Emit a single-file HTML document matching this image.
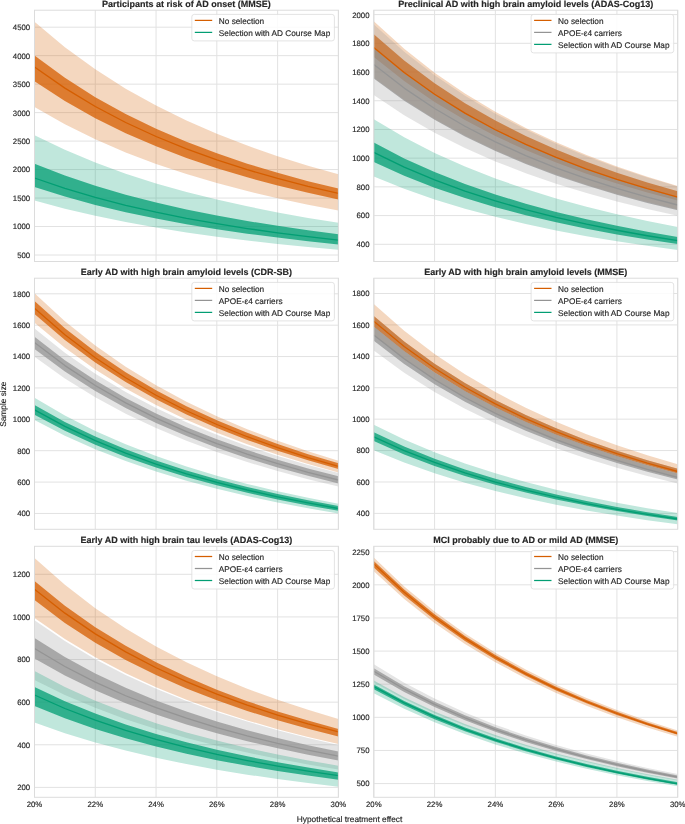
<!DOCTYPE html>
<html><head><meta charset="utf-8"><style>
html,body{margin:0;padding:0;background:#fff;width:685px;height:824px;overflow:hidden;}
svg{display:block;font-family:"Liberation Sans",sans-serif;}
svg{will-change:transform;} text{text-rendering:geometricPrecision;stroke:#262626;stroke-width:0.15px;}
</style></head><body>
<svg width="685" height="824" viewBox="0 0 685 824">
<rect width="685" height="824" fill="#fff"/>
<clipPath id="c00"><rect x="34.50" y="10.20" width="303.90" height="251.30"/></clipPath>
<g stroke="#e2e2e2" stroke-width="1"><line x1="34.50" y1="10.20" x2="34.50" y2="261.50"/><line x1="95.28" y1="10.20" x2="95.28" y2="261.50"/><line x1="156.06" y1="10.20" x2="156.06" y2="261.50"/><line x1="216.84" y1="10.20" x2="216.84" y2="261.50"/><line x1="277.62" y1="10.20" x2="277.62" y2="261.50"/><line x1="338.40" y1="10.20" x2="338.40" y2="261.50"/><line x1="34.50" y1="255.00" x2="338.40" y2="255.00"/><line x1="34.50" y1="226.52" x2="338.40" y2="226.52"/><line x1="34.50" y1="198.05" x2="338.40" y2="198.05"/><line x1="34.50" y1="169.57" x2="338.40" y2="169.57"/><line x1="34.50" y1="141.10" x2="338.40" y2="141.10"/><line x1="34.50" y1="112.62" x2="338.40" y2="112.62"/><line x1="34.50" y1="84.15" x2="338.40" y2="84.15"/><line x1="34.50" y1="55.67" x2="338.40" y2="55.67"/><line x1="34.50" y1="27.20" x2="338.40" y2="27.20"/></g>
<g clip-path="url(#c00)">
<polygon points="34.50,21.70 64.89,47.22 95.28,69.34 125.67,88.64 156.06,105.58 186.45,120.52 216.84,133.77 247.23,145.58 277.62,156.15 308.01,165.64 338.40,174.20 338.40,210.50 308.01,204.69 277.62,198.25 247.23,191.08 216.84,183.06 186.45,174.07 156.06,163.92 125.67,152.43 95.28,139.33 64.89,124.32 34.50,107.00" fill="rgb(213,94,0)" fill-opacity="0.250"/>
<polygon points="34.50,55.60 64.89,77.86 95.28,97.15 125.67,113.98 156.06,128.75 186.45,141.78 216.84,153.34 247.23,163.64 277.62,172.86 308.01,181.14 338.40,188.60 338.40,199.50 308.01,192.87 277.62,185.51 247.23,177.32 216.84,168.17 186.45,157.89 156.06,146.31 125.67,133.18 95.28,118.23 64.89,101.08 34.50,81.30" fill="rgb(213,94,0)" fill-opacity="0.750"/>
<polygon points="34.50,135.20 64.89,149.86 95.28,162.57 125.67,173.65 156.06,183.38 186.45,191.96 216.84,199.58 247.23,206.36 277.62,212.43 308.01,217.88 338.40,222.80 338.40,249.70 308.01,246.94 277.62,243.88 247.23,240.47 216.84,236.66 186.45,232.38 156.06,227.56 125.67,222.10 95.28,215.87 64.89,208.73 34.50,200.50" fill="rgb(2,158,115)" fill-opacity="0.250"/>
<polygon points="34.50,163.70 64.89,175.50 95.28,185.72 125.67,194.65 156.06,202.47 186.45,209.38 216.84,215.51 247.23,220.97 277.62,225.86 308.01,230.24 338.40,234.20 338.40,244.40 308.01,241.18 277.62,237.61 247.23,233.63 216.84,229.18 186.45,224.20 156.06,218.57 125.67,212.20 95.28,204.93 64.89,196.61 34.50,187.00" fill="rgb(2,158,115)" fill-opacity="0.750"/>
<polyline points="34.50,67.00 64.89,88.15 95.28,106.49 125.67,122.48 156.06,136.52 186.45,148.91 216.84,159.89 247.23,169.68 277.62,178.44 308.01,186.31 338.40,193.40" fill="none" stroke="rgb(213,94,0)" stroke-width="1.30" stroke-linejoin="round"/>
<polyline points="34.50,178.00 64.89,188.41 95.28,197.43 125.67,205.30 156.06,212.21 186.45,218.31 216.84,223.71 247.23,228.53 277.62,232.84 308.01,236.71 338.40,240.20" fill="none" stroke="rgb(2,158,115)" stroke-width="1.30" stroke-linejoin="round"/>
</g>
<rect x="34.50" y="10.20" width="303.90" height="251.30" fill="none" stroke="#dcdcdc" stroke-width="1"/>
<text x="30.20" y="257.90" font-family="Liberation Sans, sans-serif" font-size="7.8" fill="#262626" text-anchor="end">500</text>
<text x="30.20" y="229.42" font-family="Liberation Sans, sans-serif" font-size="7.8" fill="#262626" text-anchor="end">1000</text>
<text x="30.20" y="200.95" font-family="Liberation Sans, sans-serif" font-size="7.8" fill="#262626" text-anchor="end">1500</text>
<text x="30.20" y="172.47" font-family="Liberation Sans, sans-serif" font-size="7.8" fill="#262626" text-anchor="end">2000</text>
<text x="30.20" y="144.00" font-family="Liberation Sans, sans-serif" font-size="7.8" fill="#262626" text-anchor="end">2500</text>
<text x="30.20" y="115.53" font-family="Liberation Sans, sans-serif" font-size="7.8" fill="#262626" text-anchor="end">3000</text>
<text x="30.20" y="87.05" font-family="Liberation Sans, sans-serif" font-size="7.8" fill="#262626" text-anchor="end">3500</text>
<text x="30.20" y="58.57" font-family="Liberation Sans, sans-serif" font-size="7.8" fill="#262626" text-anchor="end">4000</text>
<text x="30.20" y="30.10" font-family="Liberation Sans, sans-serif" font-size="7.8" fill="#262626" text-anchor="end">4500</text>
<text x="186.45" y="6.80" font-family="Liberation Sans, sans-serif" font-size="9.0" font-weight="bold" fill="#262626" text-anchor="middle">Participants at risk of AD onset (MMSE)</text>
<rect x="191.80" y="14.40" width="142.6" height="26.50" rx="2.5" ry="2.5" fill="#fff" fill-opacity="0.85" stroke="#dcdcdc" stroke-width="0.8"/>
<line x1="194.80" y1="20.40" x2="212.20" y2="20.40" stroke="rgb(213,94,0)" stroke-width="1.25"/>
<text x="218.80" y="23.60" font-family="Liberation Sans, sans-serif" font-size="8.25" fill="#262626">No selection</text>
<line x1="194.80" y1="32.40" x2="212.20" y2="32.40" stroke="rgb(2,158,115)" stroke-width="1.25"/>
<text x="218.80" y="35.60" font-family="Liberation Sans, sans-serif" font-size="8.25" fill="#262626">Selection with AD Course Map</text>
<clipPath id="c10"><rect x="373.80" y="10.20" width="303.90" height="251.30"/></clipPath>
<g stroke="#e2e2e2" stroke-width="1"><line x1="373.80" y1="10.20" x2="373.80" y2="261.50"/><line x1="434.58" y1="10.20" x2="434.58" y2="261.50"/><line x1="495.36" y1="10.20" x2="495.36" y2="261.50"/><line x1="556.14" y1="10.20" x2="556.14" y2="261.50"/><line x1="616.92" y1="10.20" x2="616.92" y2="261.50"/><line x1="677.70" y1="10.20" x2="677.70" y2="261.50"/><line x1="373.80" y1="244.30" x2="677.70" y2="244.30"/><line x1="373.80" y1="215.58" x2="677.70" y2="215.58"/><line x1="373.80" y1="186.87" x2="677.70" y2="186.87"/><line x1="373.80" y1="158.16" x2="677.70" y2="158.16"/><line x1="373.80" y1="129.45" x2="677.70" y2="129.45"/><line x1="373.80" y1="100.74" x2="677.70" y2="100.74"/><line x1="373.80" y1="72.02" x2="677.70" y2="72.02"/><line x1="373.80" y1="43.31" x2="677.70" y2="43.31"/><line x1="373.80" y1="14.60" x2="677.70" y2="14.60"/></g>
<g clip-path="url(#c10)">
<polygon points="373.80,21.30 404.19,48.85 434.58,72.72 464.97,93.55 495.36,111.83 525.75,127.96 556.14,142.27 586.53,155.01 616.92,166.42 647.31,176.66 677.70,185.90 677.70,209.50 647.31,202.11 616.92,193.91 586.53,184.79 556.14,174.59 525.75,163.14 495.36,150.23 464.97,135.61 434.58,118.94 404.19,99.84 373.80,77.80" fill="rgb(213,94,0)" fill-opacity="0.250"/>
<polygon points="373.80,34.30 404.19,60.56 434.58,83.32 464.97,103.17 495.36,120.59 525.75,135.97 556.14,149.61 586.53,161.76 616.92,172.63 647.31,182.39 677.70,191.20 677.70,200.60 647.31,192.55 616.92,183.61 586.53,173.67 556.14,162.56 525.75,150.09 495.36,136.03 464.97,120.09 434.58,101.93 404.19,81.11 373.80,57.10" fill="rgb(213,94,0)" fill-opacity="0.750"/>
<polygon points="373.80,24.60 404.19,51.71 434.58,75.21 464.97,95.71 495.36,113.70 525.75,129.58 556.14,143.66 586.53,156.20 616.92,167.42 647.31,177.51 677.70,186.60 677.70,215.70 647.31,208.93 616.92,201.41 586.53,193.05 556.14,183.70 525.75,173.21 495.36,161.38 464.97,147.98 434.58,132.71 404.19,115.20 373.80,95.00" fill="rgb(148,148,148)" fill-opacity="0.250"/>
<polygon points="373.80,48.50 404.19,73.45 434.58,95.08 464.97,113.95 495.36,130.51 525.75,145.12 556.14,158.08 586.53,169.62 616.92,179.95 647.31,189.23 677.70,197.60 677.70,210.30 647.31,202.91 616.92,194.71 586.53,185.59 556.14,175.39 525.75,163.94 495.36,151.04 464.97,136.41 434.58,119.74 404.19,100.64 373.80,78.60" fill="rgb(148,148,148)" fill-opacity="0.750"/>
<polygon points="373.80,119.30 404.19,137.32 434.58,152.95 464.97,166.57 495.36,178.53 525.75,189.09 556.14,198.45 586.53,206.79 616.92,214.25 647.31,220.96 677.70,227.00 677.70,249.90 647.31,245.78 616.92,241.21 586.53,236.13 556.14,230.44 525.75,224.06 495.36,216.87 464.97,208.72 434.58,199.43 404.19,188.78 373.80,176.50" fill="rgb(2,158,115)" fill-opacity="0.250"/>
<polygon points="373.80,142.60 404.19,158.40 434.58,172.09 464.97,184.04 495.36,194.52 525.75,203.77 556.14,211.98 586.53,219.29 616.92,225.83 647.31,231.70 677.70,237.00 677.70,244.10 647.31,239.49 616.92,234.38 586.53,228.69 556.14,222.34 525.75,215.20 495.36,207.15 464.97,198.04 434.58,187.65 404.19,175.74 373.80,162.00" fill="rgb(2,158,115)" fill-opacity="0.750"/>
<polyline points="373.80,47.50 404.19,72.54 434.58,94.23 464.97,113.17 495.36,129.78 525.75,144.44 556.14,157.44 586.53,169.03 616.92,179.39 647.31,188.70 677.70,197.10" fill="none" stroke="rgb(213,94,0)" stroke-width="1.30" stroke-linejoin="round"/>
<polyline points="373.80,64.60 404.19,88.10 434.58,108.46 464.97,126.23 495.36,141.82 525.75,155.58 556.14,167.78 586.53,178.65 616.92,188.38 647.31,197.12 677.70,205.00" fill="none" stroke="rgb(148,148,148)" stroke-width="1.30" stroke-linejoin="round"/>
<polyline points="373.80,152.30 404.19,167.09 434.58,179.92 464.97,191.10 495.36,200.92 525.75,209.58 556.14,217.27 586.53,224.11 616.92,230.24 647.31,235.74 677.70,240.70" fill="none" stroke="rgb(2,158,115)" stroke-width="1.30" stroke-linejoin="round"/>
</g>
<rect x="373.80" y="10.20" width="303.90" height="251.30" fill="none" stroke="#dcdcdc" stroke-width="1"/>
<text x="369.50" y="247.20" font-family="Liberation Sans, sans-serif" font-size="7.8" fill="#262626" text-anchor="end">400</text>
<text x="369.50" y="218.48" font-family="Liberation Sans, sans-serif" font-size="7.8" fill="#262626" text-anchor="end">600</text>
<text x="369.50" y="189.77" font-family="Liberation Sans, sans-serif" font-size="7.8" fill="#262626" text-anchor="end">800</text>
<text x="369.50" y="161.06" font-family="Liberation Sans, sans-serif" font-size="7.8" fill="#262626" text-anchor="end">1000</text>
<text x="369.50" y="132.35" font-family="Liberation Sans, sans-serif" font-size="7.8" fill="#262626" text-anchor="end">1200</text>
<text x="369.50" y="103.64" font-family="Liberation Sans, sans-serif" font-size="7.8" fill="#262626" text-anchor="end">1400</text>
<text x="369.50" y="74.92" font-family="Liberation Sans, sans-serif" font-size="7.8" fill="#262626" text-anchor="end">1600</text>
<text x="369.50" y="46.21" font-family="Liberation Sans, sans-serif" font-size="7.8" fill="#262626" text-anchor="end">1800</text>
<text x="369.50" y="17.50" font-family="Liberation Sans, sans-serif" font-size="7.8" fill="#262626" text-anchor="end">2000</text>
<text x="525.75" y="6.80" font-family="Liberation Sans, sans-serif" font-size="9.0" font-weight="bold" fill="#262626" text-anchor="middle">Preclinical AD with high brain amyloid levels (ADAS-Cog13)</text>
<rect x="531.10" y="14.40" width="142.6" height="38.50" rx="2.5" ry="2.5" fill="#fff" fill-opacity="0.85" stroke="#dcdcdc" stroke-width="0.8"/>
<line x1="534.10" y1="20.40" x2="551.50" y2="20.40" stroke="rgb(213,94,0)" stroke-width="1.25"/>
<text x="558.10" y="23.60" font-family="Liberation Sans, sans-serif" font-size="8.25" fill="#262626">No selection</text>
<line x1="534.10" y1="32.40" x2="551.50" y2="32.40" stroke="rgb(148,148,148)" stroke-width="1.25"/>
<text x="558.10" y="35.60" font-family="Liberation Sans, sans-serif" font-size="8.25" fill="#262626">APOE-ε4 carriers</text>
<line x1="534.10" y1="44.40" x2="551.50" y2="44.40" stroke="rgb(2,158,115)" stroke-width="1.25"/>
<text x="558.10" y="47.60" font-family="Liberation Sans, sans-serif" font-size="8.25" fill="#262626">Selection with AD Course Map</text>
<clipPath id="c01"><rect x="34.50" y="278.20" width="303.90" height="251.10"/></clipPath>
<g stroke="#e2e2e2" stroke-width="1"><line x1="34.50" y1="278.20" x2="34.50" y2="529.30"/><line x1="95.28" y1="278.20" x2="95.28" y2="529.30"/><line x1="156.06" y1="278.20" x2="156.06" y2="529.30"/><line x1="216.84" y1="278.20" x2="216.84" y2="529.30"/><line x1="277.62" y1="278.20" x2="277.62" y2="529.30"/><line x1="338.40" y1="278.20" x2="338.40" y2="529.30"/><line x1="34.50" y1="513.46" x2="338.40" y2="513.46"/><line x1="34.50" y1="482.08" x2="338.40" y2="482.08"/><line x1="34.50" y1="450.70" x2="338.40" y2="450.70"/><line x1="34.50" y1="419.32" x2="338.40" y2="419.32"/><line x1="34.50" y1="387.94" x2="338.40" y2="387.94"/><line x1="34.50" y1="356.56" x2="338.40" y2="356.56"/><line x1="34.50" y1="325.18" x2="338.40" y2="325.18"/><line x1="34.50" y1="293.80" x2="338.40" y2="293.80"/></g>
<g clip-path="url(#c01)">
<polygon points="34.50,293.20 64.89,321.23 95.28,345.53 125.67,366.72 156.06,385.32 186.45,401.74 216.84,416.30 247.23,429.27 277.62,440.87 308.01,451.30 338.40,460.70 338.40,472.40 308.01,464.00 277.62,454.69 247.23,444.33 216.84,432.74 186.45,419.74 156.06,405.08 125.67,388.47 95.28,369.53 64.89,347.84 34.50,322.80" fill="rgb(213,94,0)" fill-opacity="0.250"/>
<polygon points="34.50,301.00 64.89,328.16 95.28,351.70 125.67,372.24 156.06,390.26 186.45,406.17 216.84,420.28 247.23,432.84 277.62,444.09 308.01,454.19 338.40,463.30 338.40,469.00 308.01,460.30 277.62,450.65 247.23,439.91 216.84,427.91 186.45,414.44 156.06,399.25 125.67,382.04 95.28,362.42 64.89,339.94 34.50,314.00" fill="rgb(213,94,0)" fill-opacity="0.750"/>
<polygon points="34.50,328.60 64.89,352.76 95.28,373.71 125.67,391.98 156.06,408.02 186.45,422.17 216.84,434.72 247.23,445.90 277.62,455.91 308.01,464.90 338.40,473.00 338.40,486.40 308.01,479.13 277.62,471.06 247.23,462.08 216.84,452.04 186.45,440.78 156.06,428.08 125.67,413.69 95.28,397.29 64.89,378.49 34.50,356.80" fill="rgb(148,148,148)" fill-opacity="0.250"/>
<polygon points="34.50,336.80 64.89,360.13 95.28,380.35 125.67,397.99 156.06,413.47 186.45,427.13 216.84,439.25 247.23,450.04 277.62,459.70 308.01,468.38 338.40,476.20 338.40,483.40 308.01,475.86 277.62,467.49 247.23,458.18 216.84,447.77 186.45,436.09 156.06,422.92 125.67,407.99 95.28,390.99 64.89,371.49 34.50,349.00" fill="rgb(148,148,148)" fill-opacity="0.750"/>
<polygon points="34.50,397.80 64.89,415.54 95.28,430.91 125.67,444.33 156.06,456.10 186.45,466.49 216.84,475.70 247.23,483.91 277.62,491.25 308.01,497.85 338.40,503.80 338.40,513.60 308.01,508.35 277.62,502.52 247.23,496.04 216.84,488.79 186.45,480.65 156.06,471.48 125.67,461.08 95.28,449.24 64.89,435.66 34.50,420.00" fill="rgb(2,158,115)" fill-opacity="0.250"/>
<polygon points="34.50,405.00 64.89,421.89 95.28,436.52 125.67,449.29 156.06,460.50 186.45,470.38 216.84,479.15 247.23,486.97 277.62,493.96 308.01,500.24 338.40,505.90 338.40,510.80 308.01,505.41 277.62,499.42 247.23,492.77 216.84,485.32 186.45,476.97 156.06,467.55 125.67,456.88 95.28,444.72 64.89,430.78 34.50,414.70" fill="rgb(2,158,115)" fill-opacity="0.750"/>
<polyline points="34.50,308.30 64.89,334.76 95.28,357.69 125.67,377.70 156.06,395.25 186.45,410.75 216.84,424.49 247.23,436.73 277.62,447.69 308.01,457.53 338.40,466.40" fill="none" stroke="rgb(213,94,0)" stroke-width="1.30" stroke-linejoin="round"/>
<polyline points="34.50,342.60 64.89,365.59 95.28,385.52 125.67,402.91 156.06,418.17 186.45,431.64 216.84,443.58 247.23,454.22 277.62,463.74 308.01,472.29 338.40,480.00" fill="none" stroke="rgb(148,148,148)" stroke-width="1.30" stroke-linejoin="round"/>
<polyline points="34.50,409.90 64.89,426.40 95.28,440.70 125.67,453.18 156.06,464.13 186.45,473.79 216.84,482.36 247.23,490.00 277.62,496.83 308.01,502.97 338.40,508.50" fill="none" stroke="rgb(2,158,115)" stroke-width="1.30" stroke-linejoin="round"/>
</g>
<rect x="34.50" y="278.20" width="303.90" height="251.10" fill="none" stroke="#dcdcdc" stroke-width="1"/>
<text x="30.20" y="516.36" font-family="Liberation Sans, sans-serif" font-size="7.8" fill="#262626" text-anchor="end">400</text>
<text x="30.20" y="484.98" font-family="Liberation Sans, sans-serif" font-size="7.8" fill="#262626" text-anchor="end">600</text>
<text x="30.20" y="453.60" font-family="Liberation Sans, sans-serif" font-size="7.8" fill="#262626" text-anchor="end">800</text>
<text x="30.20" y="422.22" font-family="Liberation Sans, sans-serif" font-size="7.8" fill="#262626" text-anchor="end">1000</text>
<text x="30.20" y="390.84" font-family="Liberation Sans, sans-serif" font-size="7.8" fill="#262626" text-anchor="end">1200</text>
<text x="30.20" y="359.46" font-family="Liberation Sans, sans-serif" font-size="7.8" fill="#262626" text-anchor="end">1400</text>
<text x="30.20" y="328.08" font-family="Liberation Sans, sans-serif" font-size="7.8" fill="#262626" text-anchor="end">1600</text>
<text x="30.20" y="296.70" font-family="Liberation Sans, sans-serif" font-size="7.8" fill="#262626" text-anchor="end">1800</text>
<text x="186.45" y="274.80" font-family="Liberation Sans, sans-serif" font-size="9.0" font-weight="bold" fill="#262626" text-anchor="middle">Early AD with high brain amyloid levels (CDR-SB)</text>
<rect x="191.80" y="282.40" width="142.6" height="38.50" rx="2.5" ry="2.5" fill="#fff" fill-opacity="0.85" stroke="#dcdcdc" stroke-width="0.8"/>
<line x1="194.80" y1="288.40" x2="212.20" y2="288.40" stroke="rgb(213,94,0)" stroke-width="1.25"/>
<text x="218.80" y="291.60" font-family="Liberation Sans, sans-serif" font-size="8.25" fill="#262626">No selection</text>
<line x1="194.80" y1="300.40" x2="212.20" y2="300.40" stroke="rgb(148,148,148)" stroke-width="1.25"/>
<text x="218.80" y="303.60" font-family="Liberation Sans, sans-serif" font-size="8.25" fill="#262626">APOE-ε4 carriers</text>
<line x1="194.80" y1="312.40" x2="212.20" y2="312.40" stroke="rgb(2,158,115)" stroke-width="1.25"/>
<text x="218.80" y="315.60" font-family="Liberation Sans, sans-serif" font-size="8.25" fill="#262626">Selection with AD Course Map</text>
<clipPath id="c11"><rect x="373.80" y="278.20" width="303.90" height="251.10"/></clipPath>
<g stroke="#e2e2e2" stroke-width="1"><line x1="373.80" y1="278.20" x2="373.80" y2="529.30"/><line x1="434.58" y1="278.20" x2="434.58" y2="529.30"/><line x1="495.36" y1="278.20" x2="495.36" y2="529.30"/><line x1="556.14" y1="278.20" x2="556.14" y2="529.30"/><line x1="616.92" y1="278.20" x2="616.92" y2="529.30"/><line x1="677.70" y1="278.20" x2="677.70" y2="529.30"/><line x1="373.80" y1="513.40" x2="677.70" y2="513.40"/><line x1="373.80" y1="481.98" x2="677.70" y2="481.98"/><line x1="373.80" y1="450.57" x2="677.70" y2="450.57"/><line x1="373.80" y1="419.16" x2="677.70" y2="419.16"/><line x1="373.80" y1="387.74" x2="677.70" y2="387.74"/><line x1="373.80" y1="356.33" x2="677.70" y2="356.33"/><line x1="373.80" y1="324.91" x2="677.70" y2="324.91"/><line x1="373.80" y1="293.50" x2="677.70" y2="293.50"/></g>
<g clip-path="url(#c11)">
<polygon points="373.80,304.00 404.19,330.81 434.58,354.05 464.97,374.32 495.36,392.11 525.75,407.81 556.14,421.73 586.53,434.14 616.92,445.24 647.31,455.21 677.70,464.20 677.70,478.30 647.31,470.31 616.92,461.46 586.53,451.60 556.14,440.58 525.75,428.21 495.36,414.26 464.97,398.46 434.58,380.45 404.19,359.81 373.80,336.00" fill="rgb(213,94,0)" fill-opacity="0.250"/>
<polygon points="373.80,316.00 404.19,341.57 434.58,363.73 464.97,383.07 495.36,400.04 525.75,415.01 556.14,428.29 586.53,440.13 616.92,450.71 647.31,460.22 677.70,468.80 677.70,473.60 647.31,465.36 616.92,456.21 586.53,446.03 556.14,434.66 525.75,421.89 495.36,407.50 464.97,391.18 434.58,372.59 404.19,351.28 373.80,326.70" fill="rgb(213,94,0)" fill-opacity="0.750"/>
<polygon points="373.80,316.00 404.19,341.57 434.58,363.73 464.97,383.07 495.36,400.04 525.75,415.01 556.14,428.29 586.53,440.13 616.92,450.71 647.31,460.22 677.70,468.80 677.70,483.40 647.31,475.94 616.92,467.67 586.53,458.46 556.14,448.17 525.75,436.62 495.36,423.60 464.97,408.84 434.58,392.02 404.19,372.74 373.80,350.50" fill="rgb(148,148,148)" fill-opacity="0.250"/>
<polygon points="373.80,326.50 404.19,351.08 434.58,372.39 464.97,390.98 495.36,407.29 525.75,421.69 556.14,434.46 586.53,445.83 616.92,456.01 647.31,465.16 677.70,473.40 677.70,479.50 647.31,471.72 616.92,463.08 586.53,453.47 556.14,442.73 525.75,430.68 495.36,417.09 464.97,401.68 434.58,384.13 404.19,364.01 373.80,340.80" fill="rgb(148,148,148)" fill-opacity="0.750"/>
<polygon points="373.80,424.70 404.19,439.49 434.58,452.32 464.97,463.50 495.36,473.32 525.75,481.98 556.14,489.67 586.53,496.51 616.92,502.64 647.31,508.14 677.70,513.10 677.70,524.30 647.31,520.14 616.92,515.53 586.53,510.39 556.14,504.66 525.75,498.22 495.36,490.95 464.97,482.73 434.58,473.35 404.19,462.60 373.80,450.20" fill="rgb(2,158,115)" fill-opacity="0.250"/>
<polygon points="373.80,432.30 404.19,446.46 434.58,458.73 464.97,469.43 495.36,478.83 525.75,487.12 556.14,494.47 586.53,501.02 616.92,506.89 647.31,512.15 677.70,516.90 677.70,520.50 647.31,516.04 616.92,511.10 586.53,505.60 556.14,499.45 525.75,492.55 495.36,484.77 464.97,475.95 434.58,465.90 404.19,454.39 373.80,441.10" fill="rgb(2,158,115)" fill-opacity="0.750"/>
<polyline points="373.80,321.30 404.19,346.44 434.58,368.22 464.97,387.23 495.36,403.91 525.75,418.63 556.14,431.68 586.53,443.31 616.92,453.72 647.31,463.07 677.70,471.50" fill="none" stroke="rgb(213,94,0)" stroke-width="1.30" stroke-linejoin="round"/>
<polyline points="373.80,335.00 404.19,358.81 434.58,379.45 464.97,397.46 495.36,413.27 525.75,427.21 556.14,439.58 586.53,450.60 616.92,460.46 647.31,469.31 677.70,477.30" fill="none" stroke="rgb(148,148,148)" stroke-width="1.30" stroke-linejoin="round"/>
<polyline points="373.80,436.80 404.19,450.56 434.58,462.48 464.97,472.88 495.36,482.01 525.75,490.07 556.14,497.21 586.53,503.57 616.92,509.27 647.31,514.39 677.70,519.00" fill="none" stroke="rgb(2,158,115)" stroke-width="1.30" stroke-linejoin="round"/>
</g>
<rect x="373.80" y="278.20" width="303.90" height="251.10" fill="none" stroke="#dcdcdc" stroke-width="1"/>
<text x="369.50" y="516.30" font-family="Liberation Sans, sans-serif" font-size="7.8" fill="#262626" text-anchor="end">400</text>
<text x="369.50" y="484.88" font-family="Liberation Sans, sans-serif" font-size="7.8" fill="#262626" text-anchor="end">600</text>
<text x="369.50" y="453.47" font-family="Liberation Sans, sans-serif" font-size="7.8" fill="#262626" text-anchor="end">800</text>
<text x="369.50" y="422.06" font-family="Liberation Sans, sans-serif" font-size="7.8" fill="#262626" text-anchor="end">1000</text>
<text x="369.50" y="390.64" font-family="Liberation Sans, sans-serif" font-size="7.8" fill="#262626" text-anchor="end">1200</text>
<text x="369.50" y="359.23" font-family="Liberation Sans, sans-serif" font-size="7.8" fill="#262626" text-anchor="end">1400</text>
<text x="369.50" y="327.81" font-family="Liberation Sans, sans-serif" font-size="7.8" fill="#262626" text-anchor="end">1600</text>
<text x="369.50" y="296.40" font-family="Liberation Sans, sans-serif" font-size="7.8" fill="#262626" text-anchor="end">1800</text>
<text x="525.75" y="274.80" font-family="Liberation Sans, sans-serif" font-size="9.0" font-weight="bold" fill="#262626" text-anchor="middle">Early AD with high brain amyloid levels (MMSE)</text>
<rect x="531.10" y="282.40" width="142.6" height="38.50" rx="2.5" ry="2.5" fill="#fff" fill-opacity="0.85" stroke="#dcdcdc" stroke-width="0.8"/>
<line x1="534.10" y1="288.40" x2="551.50" y2="288.40" stroke="rgb(213,94,0)" stroke-width="1.25"/>
<text x="558.10" y="291.60" font-family="Liberation Sans, sans-serif" font-size="8.25" fill="#262626">No selection</text>
<line x1="534.10" y1="300.40" x2="551.50" y2="300.40" stroke="rgb(148,148,148)" stroke-width="1.25"/>
<text x="558.10" y="303.60" font-family="Liberation Sans, sans-serif" font-size="8.25" fill="#262626">APOE-ε4 carriers</text>
<line x1="534.10" y1="312.40" x2="551.50" y2="312.40" stroke="rgb(2,158,115)" stroke-width="1.25"/>
<text x="558.10" y="315.60" font-family="Liberation Sans, sans-serif" font-size="8.25" fill="#262626">Selection with AD Course Map</text>
<clipPath id="c02"><rect x="34.50" y="546.30" width="303.90" height="251.00"/></clipPath>
<g stroke="#e2e2e2" stroke-width="1"><line x1="34.50" y1="546.30" x2="34.50" y2="797.30"/><line x1="95.28" y1="546.30" x2="95.28" y2="797.30"/><line x1="156.06" y1="546.30" x2="156.06" y2="797.30"/><line x1="216.84" y1="546.30" x2="216.84" y2="797.30"/><line x1="277.62" y1="546.30" x2="277.62" y2="797.30"/><line x1="338.40" y1="546.30" x2="338.40" y2="797.30"/><line x1="34.50" y1="787.40" x2="338.40" y2="787.40"/><line x1="34.50" y1="744.78" x2="338.40" y2="744.78"/><line x1="34.50" y1="702.16" x2="338.40" y2="702.16"/><line x1="34.50" y1="659.54" x2="338.40" y2="659.54"/><line x1="34.50" y1="616.92" x2="338.40" y2="616.92"/><line x1="34.50" y1="574.30" x2="338.40" y2="574.30"/></g>
<g clip-path="url(#c02)">
<polygon points="34.50,557.90 64.89,584.84 95.28,608.20 125.67,628.57 156.06,646.45 186.45,662.23 216.84,676.22 247.23,688.69 277.62,699.84 308.01,709.86 338.40,718.90 338.40,744.10 308.01,737.02 277.62,729.16 247.23,720.42 216.84,710.65 186.45,699.68 156.06,687.31 125.67,673.29 95.28,657.32 64.89,639.02 34.50,617.90" fill="rgb(213,94,0)" fill-opacity="0.250"/>
<polygon points="34.50,580.90 64.89,605.67 95.28,627.13 125.67,645.86 156.06,662.30 186.45,676.80 216.84,689.67 247.23,701.13 277.62,711.38 308.01,720.59 338.40,728.90 338.40,736.50 308.01,728.84 277.62,720.35 247.23,710.90 216.84,700.34 186.45,688.49 156.06,675.12 125.67,659.97 95.28,642.71 64.89,622.93 34.50,600.10" fill="rgb(213,94,0)" fill-opacity="0.750"/>
<polygon points="34.50,620.20 64.89,641.08 95.28,659.19 125.67,674.98 156.06,688.84 186.45,701.07 216.84,711.92 247.23,721.58 277.62,730.23 308.01,738.00 338.40,745.00 338.40,769.40 308.01,764.38 277.62,758.81 247.23,752.60 216.84,745.67 186.45,737.90 156.06,729.12 125.67,719.19 95.28,707.86 64.89,694.88 34.50,679.90" fill="rgb(148,148,148)" fill-opacity="0.250"/>
<polygon points="34.50,638.00 64.89,656.99 95.28,673.46 125.67,687.82 156.06,700.42 186.45,711.55 216.84,721.41 247.23,730.20 277.62,738.07 308.01,745.13 338.40,751.50 338.40,760.40 308.01,754.68 277.62,748.33 247.23,741.26 216.84,733.36 186.45,724.50 156.06,714.50 125.67,703.17 95.28,690.26 64.89,675.47 34.50,658.40" fill="rgb(148,148,148)" fill-opacity="0.750"/>
<polygon points="34.50,671.10 64.89,686.93 95.28,700.65 125.67,712.62 156.06,723.13 186.45,732.40 216.84,740.62 247.23,747.95 277.62,754.50 308.01,760.39 338.40,765.70 338.40,786.70 308.01,783.09 277.62,779.09 247.23,774.63 216.84,769.65 186.45,764.07 156.06,757.76 125.67,750.62 95.28,742.49 64.89,733.16 34.50,722.40" fill="rgb(2,158,115)" fill-opacity="0.250"/>
<polygon points="34.50,686.90 64.89,701.21 95.28,713.61 125.67,724.43 156.06,733.92 186.45,742.30 216.84,749.73 247.23,756.36 277.62,762.28 308.01,767.60 338.40,772.40 338.40,779.70 308.01,775.56 277.62,770.98 247.23,765.87 216.84,760.16 186.45,753.76 156.06,746.54 125.67,738.35 95.28,729.02 64.89,718.33 34.50,706.00" fill="rgb(2,158,115)" fill-opacity="0.750"/>
<polyline points="34.50,589.30 64.89,613.16 95.28,633.85 125.67,651.89 156.06,667.73 186.45,681.70 216.84,694.10 247.23,705.14 277.62,715.02 308.01,723.90 338.40,731.90" fill="none" stroke="rgb(213,94,0)" stroke-width="1.30" stroke-linejoin="round"/>
<polyline points="34.50,648.50 64.89,666.51 95.28,682.11 125.67,695.73 156.06,707.68 186.45,718.22 216.84,727.58 247.23,735.91 277.62,743.36 308.01,750.06 338.40,756.10" fill="none" stroke="rgb(148,148,148)" stroke-width="1.30" stroke-linejoin="round"/>
<polyline points="34.50,695.00 64.89,708.50 95.28,720.21 125.67,730.42 156.06,739.38 186.45,747.29 216.84,754.31 247.23,760.56 277.62,766.15 308.01,771.17 338.40,775.70" fill="none" stroke="rgb(2,158,115)" stroke-width="1.30" stroke-linejoin="round"/>
</g>
<rect x="34.50" y="546.30" width="303.90" height="251.00" fill="none" stroke="#dcdcdc" stroke-width="1"/>
<text x="30.20" y="790.30" font-family="Liberation Sans, sans-serif" font-size="7.8" fill="#262626" text-anchor="end">200</text>
<text x="30.20" y="747.68" font-family="Liberation Sans, sans-serif" font-size="7.8" fill="#262626" text-anchor="end">400</text>
<text x="30.20" y="705.06" font-family="Liberation Sans, sans-serif" font-size="7.8" fill="#262626" text-anchor="end">600</text>
<text x="30.20" y="662.44" font-family="Liberation Sans, sans-serif" font-size="7.8" fill="#262626" text-anchor="end">800</text>
<text x="30.20" y="619.82" font-family="Liberation Sans, sans-serif" font-size="7.8" fill="#262626" text-anchor="end">1000</text>
<text x="30.20" y="577.20" font-family="Liberation Sans, sans-serif" font-size="7.8" fill="#262626" text-anchor="end">1200</text>
<text x="34.50" y="807.40" font-family="Liberation Sans, sans-serif" font-size="7.8" fill="#262626" text-anchor="middle">20%</text>
<text x="95.28" y="807.40" font-family="Liberation Sans, sans-serif" font-size="7.8" fill="#262626" text-anchor="middle">22%</text>
<text x="156.06" y="807.40" font-family="Liberation Sans, sans-serif" font-size="7.8" fill="#262626" text-anchor="middle">24%</text>
<text x="216.84" y="807.40" font-family="Liberation Sans, sans-serif" font-size="7.8" fill="#262626" text-anchor="middle">26%</text>
<text x="277.62" y="807.40" font-family="Liberation Sans, sans-serif" font-size="7.8" fill="#262626" text-anchor="middle">28%</text>
<text x="338.40" y="807.40" font-family="Liberation Sans, sans-serif" font-size="7.8" fill="#262626" text-anchor="middle">30%</text>
<text x="186.45" y="542.90" font-family="Liberation Sans, sans-serif" font-size="9.0" font-weight="bold" fill="#262626" text-anchor="middle">Early AD with high brain tau levels (ADAS-Cog13)</text>
<rect x="191.80" y="550.50" width="142.6" height="38.50" rx="2.5" ry="2.5" fill="#fff" fill-opacity="0.85" stroke="#dcdcdc" stroke-width="0.8"/>
<line x1="194.80" y1="556.50" x2="212.20" y2="556.50" stroke="rgb(213,94,0)" stroke-width="1.25"/>
<text x="218.80" y="559.70" font-family="Liberation Sans, sans-serif" font-size="8.25" fill="#262626">No selection</text>
<line x1="194.80" y1="568.50" x2="212.20" y2="568.50" stroke="rgb(148,148,148)" stroke-width="1.25"/>
<text x="218.80" y="571.70" font-family="Liberation Sans, sans-serif" font-size="8.25" fill="#262626">APOE-ε4 carriers</text>
<line x1="194.80" y1="580.50" x2="212.20" y2="580.50" stroke="rgb(2,158,115)" stroke-width="1.25"/>
<text x="218.80" y="583.70" font-family="Liberation Sans, sans-serif" font-size="8.25" fill="#262626">Selection with AD Course Map</text>
<clipPath id="c12"><rect x="373.80" y="546.30" width="303.90" height="251.00"/></clipPath>
<g stroke="#e2e2e2" stroke-width="1"><line x1="373.80" y1="546.30" x2="373.80" y2="797.30"/><line x1="434.58" y1="546.30" x2="434.58" y2="797.30"/><line x1="495.36" y1="546.30" x2="495.36" y2="797.30"/><line x1="556.14" y1="546.30" x2="556.14" y2="797.30"/><line x1="616.92" y1="546.30" x2="616.92" y2="797.30"/><line x1="677.70" y1="546.30" x2="677.70" y2="797.30"/><line x1="373.80" y1="783.58" x2="677.70" y2="783.58"/><line x1="373.80" y1="750.45" x2="677.70" y2="750.45"/><line x1="373.80" y1="717.33" x2="677.70" y2="717.33"/><line x1="373.80" y1="684.20" x2="677.70" y2="684.20"/><line x1="373.80" y1="651.08" x2="677.70" y2="651.08"/><line x1="373.80" y1="617.95" x2="677.70" y2="617.95"/><line x1="373.80" y1="584.83" x2="677.70" y2="584.83"/><line x1="373.80" y1="551.70" x2="677.70" y2="551.70"/></g>
<g clip-path="url(#c12)">
<polygon points="373.80,557.50 404.19,586.45 434.58,611.54 464.97,633.44 495.36,652.65 525.75,669.60 556.14,684.64 586.53,698.04 616.92,710.02 647.31,720.79 677.70,730.50 677.70,736.80 647.31,727.51 616.92,717.20 586.53,705.72 556.14,692.90 525.75,678.51 495.36,662.28 464.97,643.89 434.58,622.93 404.19,598.91 373.80,571.20" fill="rgb(213,94,0)" fill-opacity="0.250"/>
<polygon points="373.80,560.90 404.19,589.53 434.58,614.35 464.97,636.00 495.36,655.00 525.75,671.77 556.14,686.64 586.53,699.89 616.92,711.75 647.31,722.40 677.70,732.00 677.70,734.70 647.31,725.32 616.92,714.91 586.53,703.32 556.14,690.38 525.75,675.85 495.36,659.46 464.97,640.89 434.58,619.73 404.19,595.48 373.80,567.50" fill="rgb(213,94,0)" fill-opacity="0.750"/>
<polygon points="373.80,664.30 404.19,682.67 434.58,698.60 464.97,712.50 495.36,724.69 525.75,735.45 556.14,744.99 586.53,753.50 616.92,761.10 647.31,767.94 677.70,774.10 677.70,780.40 647.31,774.91 616.92,768.82 586.53,762.05 556.14,754.47 525.75,745.97 495.36,736.39 464.97,725.53 434.58,713.15 404.19,698.97 373.80,682.60" fill="rgb(148,148,148)" fill-opacity="0.250"/>
<polygon points="373.80,668.30 404.19,686.24 434.58,701.79 464.97,715.35 495.36,727.26 525.75,737.77 556.14,747.08 586.53,755.38 616.92,762.81 647.31,769.48 677.70,775.50 677.70,778.50 647.31,772.67 616.92,766.20 586.53,759.00 556.14,750.96 525.75,741.93 495.36,731.75 464.97,720.21 434.58,707.06 404.19,691.99 373.80,674.60" fill="rgb(148,148,148)" fill-opacity="0.750"/>
<polygon points="373.80,680.60 404.19,697.18 434.58,711.56 464.97,724.10 495.36,735.11 525.75,744.82 556.14,753.43 586.53,761.10 616.92,767.97 647.31,774.14 677.70,779.70 677.70,786.20 647.31,780.99 616.92,775.20 586.53,768.77 556.14,761.57 525.75,753.50 495.36,744.39 464.97,734.08 434.58,722.32 404.19,708.85 373.80,693.30" fill="rgb(2,158,115)" fill-opacity="0.250"/>
<polygon points="373.80,684.60 404.19,700.95 434.58,715.12 464.97,727.48 495.36,738.34 525.75,747.91 556.14,756.40 586.53,763.97 616.92,770.74 647.31,776.82 677.70,782.30 677.70,784.80 647.31,779.44 616.92,773.50 586.53,766.88 556.14,759.48 525.75,751.18 495.36,741.82 464.97,731.22 434.58,719.13 404.19,705.28 373.80,689.30" fill="rgb(2,158,115)" fill-opacity="0.750"/>
<polyline points="373.80,563.90 404.19,592.30 434.58,616.91 464.97,638.39 495.36,657.24 525.75,673.87 556.14,688.61 586.53,701.76 616.92,713.51 647.31,724.08 677.70,733.60" fill="none" stroke="rgb(213,94,0)" stroke-width="1.30" stroke-linejoin="round"/>
<polyline points="373.80,671.30 404.19,689.02 434.58,704.38 464.97,717.78 495.36,729.55 525.75,739.92 556.14,749.13 586.53,757.33 616.92,764.66 647.31,771.26 677.70,777.20" fill="none" stroke="rgb(148,148,148)" stroke-width="1.30" stroke-linejoin="round"/>
<polyline points="373.80,686.60 404.19,702.87 434.58,716.96 464.97,729.27 495.36,740.06 525.75,749.59 556.14,758.03 586.53,765.56 616.92,772.29 647.31,778.34 677.70,783.80" fill="none" stroke="rgb(2,158,115)" stroke-width="1.30" stroke-linejoin="round"/>
</g>
<rect x="373.80" y="546.30" width="303.90" height="251.00" fill="none" stroke="#dcdcdc" stroke-width="1"/>
<text x="369.50" y="786.48" font-family="Liberation Sans, sans-serif" font-size="7.8" fill="#262626" text-anchor="end">500</text>
<text x="369.50" y="753.35" font-family="Liberation Sans, sans-serif" font-size="7.8" fill="#262626" text-anchor="end">750</text>
<text x="369.50" y="720.23" font-family="Liberation Sans, sans-serif" font-size="7.8" fill="#262626" text-anchor="end">1000</text>
<text x="369.50" y="687.10" font-family="Liberation Sans, sans-serif" font-size="7.8" fill="#262626" text-anchor="end">1250</text>
<text x="369.50" y="653.98" font-family="Liberation Sans, sans-serif" font-size="7.8" fill="#262626" text-anchor="end">1500</text>
<text x="369.50" y="620.85" font-family="Liberation Sans, sans-serif" font-size="7.8" fill="#262626" text-anchor="end">1750</text>
<text x="369.50" y="587.73" font-family="Liberation Sans, sans-serif" font-size="7.8" fill="#262626" text-anchor="end">2000</text>
<text x="369.50" y="554.60" font-family="Liberation Sans, sans-serif" font-size="7.8" fill="#262626" text-anchor="end">2250</text>
<text x="373.80" y="807.40" font-family="Liberation Sans, sans-serif" font-size="7.8" fill="#262626" text-anchor="middle">20%</text>
<text x="434.58" y="807.40" font-family="Liberation Sans, sans-serif" font-size="7.8" fill="#262626" text-anchor="middle">22%</text>
<text x="495.36" y="807.40" font-family="Liberation Sans, sans-serif" font-size="7.8" fill="#262626" text-anchor="middle">24%</text>
<text x="556.14" y="807.40" font-family="Liberation Sans, sans-serif" font-size="7.8" fill="#262626" text-anchor="middle">26%</text>
<text x="616.92" y="807.40" font-family="Liberation Sans, sans-serif" font-size="7.8" fill="#262626" text-anchor="middle">28%</text>
<text x="677.70" y="807.40" font-family="Liberation Sans, sans-serif" font-size="7.8" fill="#262626" text-anchor="middle">30%</text>
<text x="525.75" y="542.90" font-family="Liberation Sans, sans-serif" font-size="9.0" font-weight="bold" fill="#262626" text-anchor="middle">MCI probably due to AD or mild AD (MMSE)</text>
<rect x="531.10" y="550.50" width="142.6" height="38.50" rx="2.5" ry="2.5" fill="#fff" fill-opacity="0.85" stroke="#dcdcdc" stroke-width="0.8"/>
<line x1="534.10" y1="556.50" x2="551.50" y2="556.50" stroke="rgb(213,94,0)" stroke-width="1.25"/>
<text x="558.10" y="559.70" font-family="Liberation Sans, sans-serif" font-size="8.25" fill="#262626">No selection</text>
<line x1="534.10" y1="568.50" x2="551.50" y2="568.50" stroke="rgb(148,148,148)" stroke-width="1.25"/>
<text x="558.10" y="571.70" font-family="Liberation Sans, sans-serif" font-size="8.25" fill="#262626">APOE-ε4 carriers</text>
<line x1="534.10" y1="580.50" x2="551.50" y2="580.50" stroke="rgb(2,158,115)" stroke-width="1.25"/>
<text x="558.10" y="583.70" font-family="Liberation Sans, sans-serif" font-size="8.25" fill="#262626">Selection with AD Course Map</text>
<text x="349.5" y="822.3" font-family="Liberation Sans, sans-serif" font-size="8.3" fill="#262626" text-anchor="middle">Hypothetical treatment effect</text>
<text transform="translate(5.8,404.2) rotate(-90)" font-family="Liberation Sans, sans-serif" font-size="8.3" fill="#262626" text-anchor="middle">Sample size</text>
</svg>
</body></html>
